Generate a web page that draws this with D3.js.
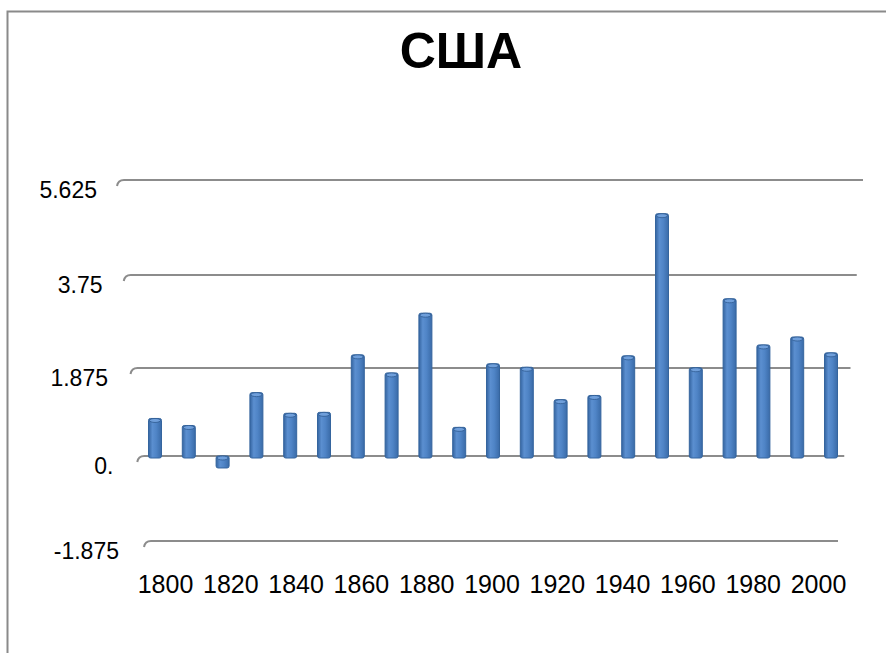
<!DOCTYPE html>
<html>
<head>
<meta charset="utf-8">
<script src="https://cdn.jsdelivr.net/npm/d3@7"></script>
<style>
  body { margin: 0; background: #fff; }
  svg { display: block; }
  text { font-family: "Liberation Sans", Arial, sans-serif; fill: #000; }
</style>
</head>
<body>
<div id="chart"></div>
<script>
// data
var years = [1800, 1810, 1820, 1830, 1840, 1850, 1860, 1870, 1880, 1890, 1900,
             1910, 1920, 1930, 1940, 1950, 1960, 1970, 1980, 1990, 2000];
var values = [0.80, 0.65, -0.22, 1.35, 0.91, 0.93, 2.14, 1.77, 2.98, 0.61, 1.96,
              1.89, 1.20, 1.29, 2.12, 4.96, 1.88, 3.27, 2.34, 2.50, 2.18];
var yTicks = [-1.875, 0, 1.875, 3.75, 5.625];
var yTickLabels = ["-1.875", "0.", "1.875", "3.75", "5.625"];
var xLabels = [1800, 1820, 1840, 1860, 1880, 1900, 1920, 1940, 1960, 1980, 2000];
var title = "США";

var width = 886;
var height = 653;
var barW = 13;

var svg = d3.select("#chart")
    .append("svg")
    .attr("width", width)
    .attr("height", height);

// frame of the chart area (open to the right and bottom)
svg.append("path")
    .attr("d", "M7.5,653 V11.5 H886")
    .attr("fill", "none")
    .attr("stroke", "#8a8a8a")
    .attr("stroke-width", 2);

svg.append("text")
    .attr("x", 461)
    .attr("y", 68)
    .attr("text-anchor", "middle")
    .style("font-size", "50px")
    .style("font-weight", "bold")
    .text(title);

// 3d look: gridlines get a bit closer together towards the bottom
var y = d3.scaleLinear()
    .domain(yTicks)
    .range([541, 456, 368, 275, 180]);
var gridLeft = d3.scaleLinear().domain([-1.875, 5.625]).range([145, 118]);
var gridRight = d3.scaleLinear().domain([-1.875, 5.625]).range([838, 863]);
var labelRight = d3.scaleLinear().domain([-1.875, 5.625]).range([119, 97]);

var x = d3.scalePoint()
    .domain(years)
    .range([155, 831]);

// the front axis is a little narrower than the bar row
var xFront = d3.scalePoint()
    .domain(xLabels)
    .range([165, 818]);

var grid = svg.append("g");
grid.selectAll("path")
    .data(yTicks)
    .enter().append("path")
    .attr("d", function(d) {
        var l = gridLeft(d), r = gridRight(d), yy = y(d);
        return "M" + (l - 1) + "," + (yy + 6) + " Q" + l + "," + yy + " " + (l + 6) + "," + yy + " H" + r;
    })
    .attr("fill", "none")
    .attr("stroke", "#8c8c8c")
    .attr("stroke-width", 2);

svg.append("g").selectAll("text")
    .data(yTicks)
    .enter().append("text")
    .attr("x", function(d) { return labelRight(d); })
    .attr("y", function(d) { return y(d) + 18; })
    .attr("text-anchor", "end")
    .style("font-size", "23px")
    .text(function(d, i) { return yTickLabels[i]; });

var defs = svg.append("defs");
var grad = defs.append("linearGradient")
    .attr("id", "barGrad")
    .attr("x1", "0").attr("x2", "1").attr("y1", "0").attr("y2", "0");
grad.append("stop").attr("offset", "0").attr("stop-color", "#3464a0");
grad.append("stop").attr("offset", "0.3").attr("stop-color", "#5b8fd0");
grad.append("stop").attr("offset", "0.6").attr("stop-color", "#4f84c6");
grad.append("stop").attr("offset", "1").attr("stop-color", "#3a6ba8");

var bars = svg.append("g").selectAll("g")
    .data(years)
    .enter().append("g");

bars.append("rect")
    .attr("x", function(d) { return x(d) - barW / 2; })
    .attr("y", function(d, i) { return Math.min(y(values[i]), y(0)); })
    .attr("width", barW)
    .attr("height", function(d, i) { return Math.abs(y(values[i]) - y(0)) + 2; })
    .attr("rx", 2)
    .attr("fill", "url(#barGrad)")
    .attr("stroke", "#35659e")
    .attr("stroke-width", 1);

bars.append("ellipse")
    .attr("cx", function(d) { return x(d); })
    .attr("cy", function(d, i) { return Math.min(y(values[i]), y(0)) + 2; })
    .attr("rx", barW / 2 - 1)
    .attr("ry", 2)
    .attr("fill", "#6f9fdb")
    .attr("stroke", "#2f5b90")
    .attr("stroke-width", 0.8);

var xAxis = svg.append("g")
    .attr("transform", "translate(0,575)")
    .call(d3.axisBottom(xFront).tickSize(0).tickPadding(0));
xAxis.select(".domain").remove();
xAxis.selectAll("text")
    .attr("dy", "0.71em")
    .style("font-size", "25px")
    .style("font-family", "'Liberation Sans', Arial, sans-serif")
    .attr("fill", "#000");
</script>
</body>
</html>
